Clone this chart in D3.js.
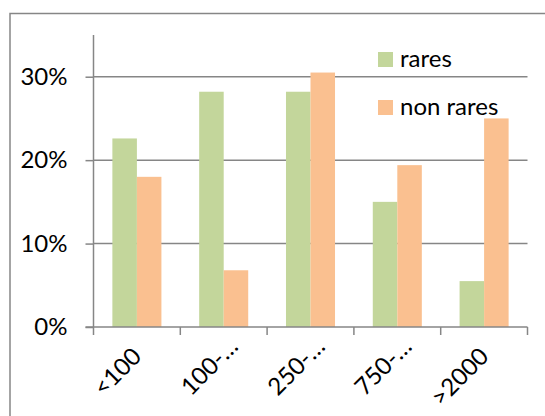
<!DOCTYPE html>
<html>
<head>
<meta charset="utf-8">
<script src="https://cdn.jsdelivr.net/npm/d3@7"></script>
<style>
  html, body { margin: 0; padding: 0; background: #fff; }
  svg { display: block; }
  text { font-family: Lato, "Open Sans", sans-serif; fill: #000; }
</style>
</head>
<body>
<svg id="chart" width="545" height="416"></svg>
<script>
const categories = ["<100", "100-…", "250-…", "750-…", ">2000"];
const seriesNames = ["rares", "non rares"];
const rares = [0.226, 0.282, 0.282, 0.150, 0.055];
const nonRares = [0.180, 0.068, 0.305, 0.194, 0.250];
const yTicks = [0, 0.1, 0.2, 0.3];
const colors = ["#C3D69B", "#FAC090"];

const values = [rares, nonRares];
const rows = categories.map((c, i) => ({ cat: c, vals: seriesNames.map((s, j) => ({ key: s, value: values[j][i] })) }));

const svg = d3.select("#chart");
const plotLeft = 93.5, plotRight = 527.5, plotTop = 35, base = 327;
const fs = 24;
const grey = "#868686";

// outer chart border (extends beyond right/bottom edges like the reference crop)
svg.append("rect").attr("x", 10).attr("y", 13.5).attr("width", 700).attr("height", 600)
  .attr("fill", "none").attr("stroke", grey).attr("stroke-width", 1.5);

const x0 = d3.scaleBand().domain(categories).range([plotLeft, plotRight]).padding(0);
const x1 = d3.scaleBand().domain(seriesNames).range([0, x0.bandwidth()]).paddingInner(0).paddingOuter(0.77);
const y = d3.scaleLinear().domain([0, 0.35]).range([base, plotTop]);

// gridlines
svg.append("g").selectAll("line").data(yTicks.filter(d => d > 0)).join("line")
  .attr("x1", plotLeft).attr("x2", plotRight)
  .attr("y1", d => y(d)).attr("y2", d => y(d))
  .attr("stroke", grey).attr("stroke-width", 1.5);

// bars
const g = svg.append("g").selectAll("g").data(rows).join("g")
  .attr("transform", d => `translate(${x0(d.cat)},0)`);
g.selectAll("rect").data(d => d.vals).join("rect")
  .attr("x", d => x1(d.key)).attr("width", x1.bandwidth())
  .attr("y", d => y(d.value)).attr("height", d => base - y(d.value))
  .attr("fill", (d, i) => colors[i]);

// y axis
const yAxis = svg.append("g").attr("transform", `translate(${plotLeft},0)`)
  .call(d3.axisLeft(y).tickValues(yTicks).tickFormat(d3.format(".0%")).tickSize(8).tickPadding(18));
yAxis.select(".domain").remove();
yAxis.selectAll(".tick line").attr("stroke", grey).attr("stroke-width", 1.5);
yAxis.selectAll(".tick text").attr("font-size", fs).attr("font-family", "Lato, sans-serif").attr("fill", "#000");
svg.append("line").attr("x1", plotLeft).attr("x2", plotLeft).attr("y1", plotTop).attr("y2", base)
  .attr("stroke", grey).attr("stroke-width", 1.5);

// x axis
const xAxis = svg.append("g").attr("transform", `translate(0,${base})`)
  .call(d3.axisBottom(x0).tickSize(0).tickFormat(""));
xAxis.select(".domain").attr("d", `M${plotLeft - 8},0H${plotRight}`).attr("stroke", grey).attr("stroke-width", 1.5);
const edges = categories.map(c => x0(c)).concat([x0.range()[1]]);
xAxis.selectAll("line.edge").data(edges).join("line").attr("class", "edge")
  .attr("x1", d => d).attr("x2", d => d).attr("y1", 0).attr("y2", 8)
  .attr("stroke", grey).attr("stroke-width", 1.5);

// x labels rotated -45
svg.append("g").selectAll("text").data(categories).join("text")
  .attr("font-size", fs)
  .text(d => d)
  .each(function(d) {
    const t = d3.select(this);
    const n = this.getNumberOfChars();
    const core = d.endsWith("…") ? this.getSubStringLength(0, n - 1) + 4 : this.getComputedTextLength();
    const px = x0(d) + x0.bandwidth() / 2 + 6, py = base + 31;
    t.attr("text-anchor", "start")
      .attr("transform", `translate(${px},${py}) rotate(-45)`)
      .attr("x", -core).attr("y", 0);
  });

// legend
const leg = svg.append("g").selectAll("g").data(seriesNames).join("g")
  .attr("transform", (d, i) => `translate(378,${52 + i * 48})`);
leg.append("rect").attr("width", 15).attr("height", 15).attr("fill", (d, i) => colors[i]);
leg.append("text").attr("x", 22).attr("y", 15).attr("font-size", fs).text(d => d);
</script>
</body>
</html>
